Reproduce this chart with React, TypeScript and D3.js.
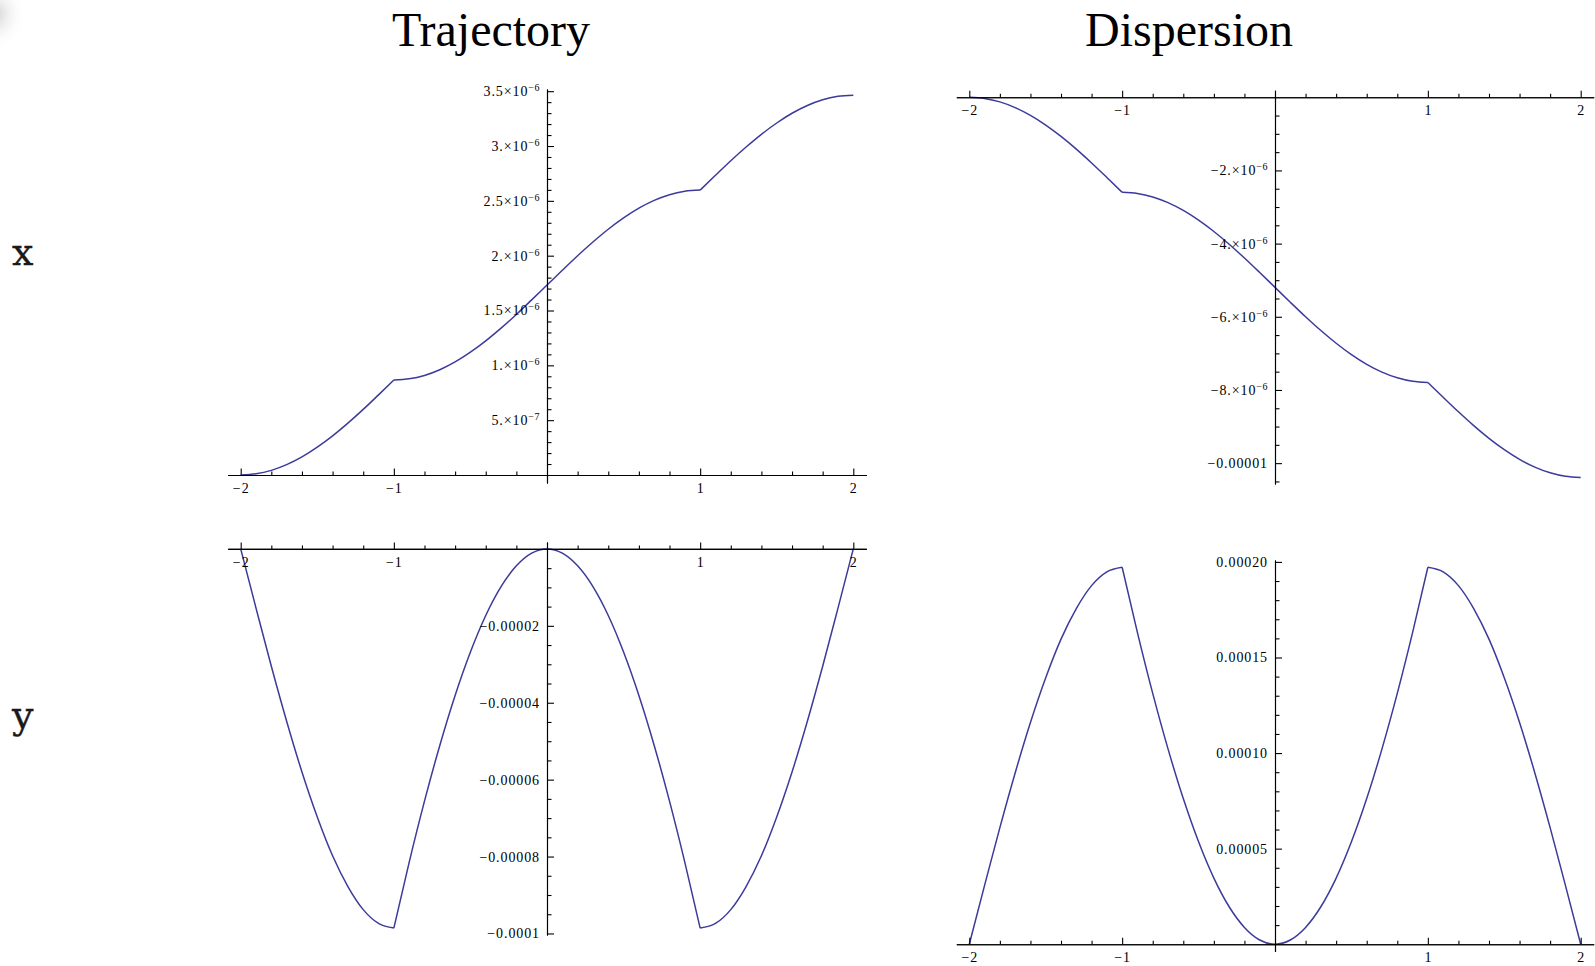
import React, { useEffect, useRef } from "react";
import * as d3 from "d3";

// sample positions along the line (shared by all four panels)
const positions = [
  -2, -1.9, -1.8, -1.7, -1.6, -1.5, -1.4, -1.3, -1.2, -1.1,
  -1, -0.9, -0.8, -0.7, -0.6, -0.5, -0.4, -0.3, -0.2, -0.1,
  0, 0.1, 0.2, 0.3, 0.4, 0.5, 0.6, 0.7, 0.8, 0.9,
  1, 1.1, 1.2, 1.3, 1.4, 1.5, 1.6, 1.7, 1.8, 1.9, 2,
];

// the curves have kinks here, so they are drawn piece by piece
const breakPositions = [-1, 1];

// trajectory x (units of 1e-6)
const trajectoryX = [
  0, 0.011, 0.042, 0.094, 0.165, 0.254, 0.357, 0.473, 0.598, 0.731,
  0.866, 0.877, 0.908, 0.96, 1.031, 1.12, 1.223, 1.339, 1.464, 1.597,
  1.732, 1.867, 2.0, 2.125, 2.241, 2.344, 2.433, 2.504, 2.556, 2.587,
  2.598, 2.733, 2.866, 2.991, 3.107, 3.21, 3.299, 3.37, 3.422, 3.453, 3.464,
];

// dispersion x (units of 1e-6)
const dispersionX = [
  0, -0.032, -0.127, -0.283, -0.496, -0.761, -1.071, -1.418, -1.795, -2.192,
  -2.598, -2.63, -2.725, -2.881, -3.094, -3.359, -3.669, -4.016, -4.393, -4.79,
  -5.196, -5.602, -5.999, -6.376, -6.723, -7.033, -7.298, -7.511, -7.667, -7.762,
  -7.794, -8.2, -8.597, -8.974, -9.321, -9.631, -9.896, -10.109, -10.265, -10.36, -10.392,
];

// trajectory y (units of 1e-5)
const trajectoryY = [
  0, -1.54, -3.05, -4.48, -5.8, -6.97, -7.98, -8.78, -9.38, -9.74,
  -9.86, -8.15, -6.56, -5.11, -3.81, -2.68, -1.73, -0.98, -0.44, -0.11,
  0, -0.11, -0.44, -0.98, -1.73, -2.68, -3.81, -5.11, -6.56, -8.15,
  -9.86, -9.74, -9.38, -8.78, -7.98, -6.97, -5.8, -4.48, -3.05, -1.54, 0,
];

// dispersion y (units of 1e-5)
const dispersionY = [
  0, 3.08, 6.1, 8.96, 11.6, 13.94, 15.96, 17.56, 18.76, 19.48,
  19.72, 16.3, 13.12, 10.22, 7.62, 5.36, 3.46, 1.96, 0.88, 0.22,
  0, 0.22, 0.88, 1.96, 3.46, 5.36, 7.62, 10.22, 13.12, 16.3,
  19.72, 19.48, 18.76, 17.56, 15.96, 13.94, 11.6, 8.96, 6.1, 3.08, 0,
];

const columnTitles = ["Trajectory", "Dispersion"];
const rowLabels = ["x", "y"];

const xTicks = [-2, -1, 1, 2];

// y ticks in each panel's unit, labels as [mantissa, exponent]
const trajXTicks = [0.5, 1, 1.5, 2, 2.5, 3, 3.5];
const trajXLabels = [
  ["5.", "\u22127"], ["1.", "\u22126"], ["1.5", "\u22126"], ["2.", "\u22126"],
  ["2.5", "\u22126"], ["3.", "\u22126"], ["3.5", "\u22126"],
];
const dispXTicks = [-2, -4, -6, -8, -10];
const dispXLabels = [
  ["\u22122.", "\u22126"], ["\u22124.", "\u22126"], ["\u22126.", "\u22126"],
  ["\u22128.", "\u22126"], ["\u22120.00001", ""],
];
const trajYTicks = [-2, -4, -6, -8, -10];
const trajYLabels = [
  ["\u22120.00002", ""], ["\u22120.00004", ""], ["\u22120.00006", ""],
  ["\u22120.00008", ""], ["\u22120.0001", ""],
];
const dispYTicks = [5, 10, 15, 20];
const dispYLabels = [["0.00005", ""], ["0.00010", ""], ["0.00015", ""], ["0.00020", ""]];

const curveColor = "#3b3b9b";
const tickFont = "'Liberation Serif', 'Times New Roman', serif";

type Panel = {
  values: number[];
  yTicks: number[];
  yLabels: string[][];
  minorStep: number;
  x0: number;
  unit: number;
  yDomain: [number, number];
  yRange: [number, number];
};

const panels: Panel[] = [
  { values: trajectoryX, yTicks: trajXTicks, yLabels: trajXLabels, minorStep: 0.1,
    x0: 547, unit: 153.15, yDomain: [-0.073, 3.52], yRange: [483, 89] },
  { values: dispersionX, yTicks: dispXTicks, yLabels: dispXLabels, minorStep: 0.5,
    x0: 1275, unit: 152.85, yDomain: [-10.57, 0.19], yRange: [484, 90.3] },
  { values: trajectoryY, yTicks: trajYTicks, yLabels: trajYLabels, minorStep: 0.5,
    x0: 547, unit: 153.15, yDomain: [-10.04, 0.18], yRange: [935, 542] },
  { values: dispersionY, yTicks: dispYTicks, yLabels: dispYLabels, minorStep: 1,
    x0: 1275, unit: 152.85, yDomain: [-0.38, 20.1], yRange: [951.5, 560] },
];

const XPAD = 2.085;

export default function App() {
  const svgRef = useRef<SVGSVGElement>(null);

  useEffect(() => {
    const svg = d3.select(svgRef.current);
    svg.selectAll("*").remove();

    // faint shadow in the top left corner
    const grad = svg.append("defs").append("radialGradient").attr("id", "corner");
    grad.append("stop").attr("offset", "0%").attr("stop-color", "#d4d4d4");
    grad.append("stop").attr("offset", "100%").attr("stop-color", "#ffffff").attr("stop-opacity", 0);
    svg.append("ellipse")
      .attr("cx", -4).attr("cy", 14).attr("rx", 30).attr("ry", 36)
      .attr("fill", "url(#corner)");

    const styleAxis = (g: d3.Selection<SVGGElement, unknown, null, undefined>) => {
      g.attr("font-family", tickFont).attr("font-size", 14);
      g.select(".domain").attr("stroke", "#000").attr("stroke-width", 1.1);
      g.selectAll(".tick line").attr("stroke", "#000").attr("stroke-width", 1.1);
      g.selectAll(".tick text").attr("fill", "#000").style("letter-spacing", "0.9px");
    };

    const breakIdx = breakPositions.map(b => positions.indexOf(b));
    const pieces = [0, ...breakIdx, positions.length - 1];

    panels.forEach(p => {
      const x = d3.scaleLinear()
        .domain([-XPAD, XPAD])
        .range([p.x0 - XPAD * p.unit, p.x0 + XPAD * p.unit]);
      const y = d3.scaleLinear().domain(p.yDomain).range(p.yRange);

      const g = svg.append("g");

      // curve
      const line = d3.line<number>()
        .x(d => x(positions[d]))
        .y(d => y(p.values[d]))
        .curve(d3.curveMonotoneX);
      for (let k = 0; k < pieces.length - 1; k++) {
        g.append("path")
          .datum(d3.range(pieces[k], pieces[k + 1] + 1))
          .attr("d", line)
          .attr("fill", "none")
          .attr("stroke", curveColor)
          .attr("stroke-width", 1.5);
      }

      // x axis
      const xMinor = d3.range(-10, 11).map(k => k * 0.2)
        .filter(v => Math.abs(v - Math.round(v)) > 1e-6);
      const xMin = g.append("g").attr("transform", `translate(0,${y(0)})`)
        .call(d3.axisBottom(x).tickValues(xMinor).tickSizeInner(-3.5).tickSizeOuter(0).tickFormat(() => ""));
      styleAxis(xMin);
      const xMaj = g.append("g").attr("transform", `translate(0,${y(0)})`)
        .call(d3.axisBottom(x).tickValues(xTicks).tickSizeInner(-6.5).tickSizeOuter(0)
          .tickPadding(8).tickFormat(d3.format("d")));
      styleAxis(xMaj);

      // y axis
      const [lo, hi] = d3.extent(p.yDomain) as [number, number];
      const yMinor = d3.range(Math.ceil(lo / p.minorStep), Math.floor(hi / p.minorStep) + 1)
        .map(k => k * p.minorStep)
        .filter(v => Math.abs(v) > 1e-9 && !p.yTicks.some(t => Math.abs(t - v) < 1e-9));
      const yMin = g.append("g").attr("transform", `translate(${x(0)},0)`)
        .call(d3.axisLeft(y).tickValues(yMinor).tickSizeInner(-4.5).tickSizeOuter(0).tickFormat(() => ""));
      styleAxis(yMin);
      const yMaj = g.append("g").attr("transform", `translate(${x(0)},0)`)
        .call(d3.axisLeft(y).tickValues(p.yTicks).tickSizeInner(-7).tickSizeOuter(0)
          .tickPadding(7).tickFormat(() => ""));
      styleAxis(yMaj);
      yMaj.selectAll<SVGTextElement, number>(".tick text").each(function (_, i) {
        const [mant, exp] = p.yLabels[i];
        const t = d3.select(this);
        if (!exp) {
          t.text(mant);
          return;
        }
        t.append("tspan").text(mant + "\u00d710");
        t.append("tspan")
          .attr("dy", "-0.5em")
          .attr("font-size", 10)
          .style("letter-spacing", "0.5px")
          .text(exp);
      });
    });

    // column titles
    svg.selectAll("text.title")
      .data(columnTitles)
      .join("text")
      .attr("class", "title")
      .attr("x", (_, i) => [491, 1189][i])
      .attr("y", 46)
      .attr("text-anchor", "middle")
      .attr("font-family", tickFont)
      .attr("font-size", 48)
      .attr("fill", "#000")
      .text(d => d);

    // row labels
    svg.selectAll("text.row")
      .data(rowLabels)
      .join("text")
      .attr("class", "row")
      .attr("x", 12)
      .attr("y", (_, i) => [265, 728][i])
      .attr("font-family", "'DejaVu Serif', serif")
      .attr("font-size", 38)
      .attr("fill", "#1a1a1a")
      .attr("stroke", "#1a1a1a")
      .attr("stroke-width", 0.35)
      .text(d => d);
  }, []);

  return (
    <svg
      ref={svgRef}
      width={1595}
      height={966}
      style={{ position: "absolute", left: 0, top: 0, background: "#fff" }}
    />
  );
}
